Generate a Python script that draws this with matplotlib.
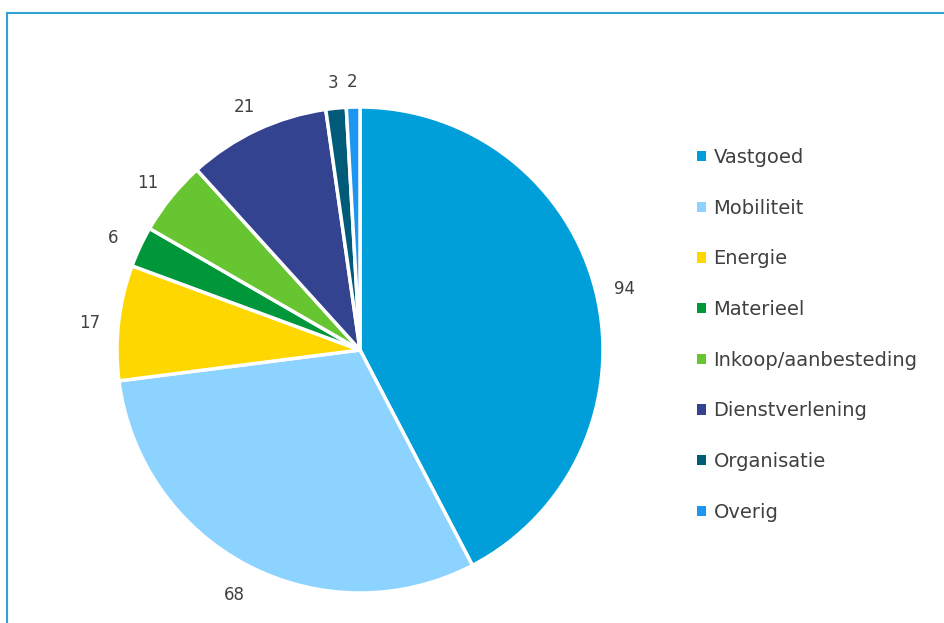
import matplotlib.pyplot as plt
from matplotlib.patches import Patch
from matplotlib.lines import Line2D

categories = ["Vastgoed", "Mobiliteit", "Energie", "Materieel",
              "Inkoop/aanbesteding", "Dienstverlening", "Organisatie", "Overig"]
values = [94, 68, 17, 6, 11, 21, 3, 2]
colors = ["#009FDA", "#8DD3FF", "#FFD700", "#00963A",
          "#66C530", "#33438F", "#005A78", "#1E96F0"]

W, H = 944, 623
fig = plt.figure(figsize=(W / 100, H / 100), dpi=100)

# pie centre and radius in pixels
cx, cy, r = 360, 350, 243
L = 1.25
ax = fig.add_axes([(cx - L * r) / W, (H - cy - L * r) / H, 2 * L * r / W, 2 * L * r / H])
ax.axis("off")

total = sum(values)
wedges, texts, autotexts = ax.pie(
    values, colors=colors, startangle=90, counterclock=False,
    autopct=lambda p: f"{round(p * total / 100):d}", pctdistance=1.12,
    wedgeprops=dict(edgecolor="white", linewidth=2.5),
    textprops=dict(color="#404040", fontsize=12), frame=False)
ax.set_xlim(-L, L)
ax.set_ylim(-L, L)
ax.set_aspect("auto")
for t in autotexts:
    x, y = t.get_position()
    t.set_position((x, y - 0.015))

handles = [Patch(facecolor=c, edgecolor="none") for c in colors]
fig.legend(handles, categories, loc="upper left",
           bbox_to_anchor=(697 / W, 1 - 148 / H), frameon=False,
           handlelength=0.45, handleheight=0.45, handletextpad=0.4,
           labelspacing=1.63, borderpad=0, borderaxespad=0,
           prop=dict(size=14), labelcolor="#404040")

# outer frame
fig.add_artist(Line2D([7 / W, 1], [1 - 13 / H, 1 - 13 / H], color="#2FA3D3", lw=1.5))
fig.add_artist(Line2D([7 / W, 7 / W], [0, 1 - 13 / H], color="#2FA3D3", lw=1.5))

fig.savefig("out.png", dpi=100)
